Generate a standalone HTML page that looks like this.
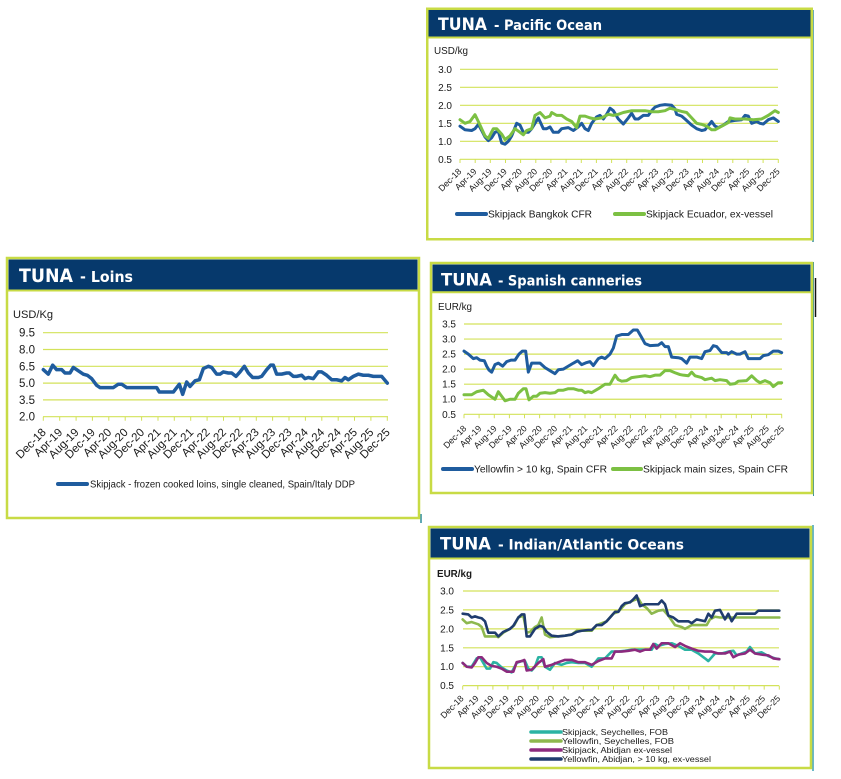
<!DOCTYPE html>
<html><head><meta charset="utf-8"><style>
html,body{margin:0;padding:0;background:#fff;}
svg{display:block;}
.t{font-family:"Liberation Sans",Arial,sans-serif;fill:#1a1a1a;}
.h{font-family:"DejaVu Sans","Liberation Sans",sans-serif;font-weight:bold;fill:#fff;}
.xl{font-family:"Liberation Sans",Arial,sans-serif;font-size:8.8px;fill:#1a1a1a;text-anchor:end;}
.xl2{font-family:"Liberation Sans",Arial,sans-serif;font-size:11.5px;fill:#1a1a1a;text-anchor:end;}
.yl{font-family:"Liberation Sans",Arial,sans-serif;font-size:10px;fill:#1a1a1a;text-anchor:end;}
.g{stroke:#d3e25a;stroke-width:1.2;}
.s{fill:none;stroke-linejoin:round;stroke-linecap:round;vector-effect:non-scaling-stroke;}
</style></head><body>
<svg width="841" height="779" viewBox="0 0 841 779" xmlns="http://www.w3.org/2000/svg">
<rect width="841" height="779" fill="#fff"/>

<!-- ============ PACIFIC ============ -->
<line x1="813" y1="10" x2="813" y2="242" stroke="#3b8f9c" stroke-width="1.5"/>
<rect x="427.25" y="8.75" width="384.5" height="230.5" fill="#fff" stroke="#c8db45" stroke-width="2.5"/>
<rect x="428.5" y="10" width="382" height="26.5" fill="#06396c"/>
<line x1="428" y1="37.5" x2="811" y2="37.5" stroke="#c8db45" stroke-width="2"/>
<text class="h" x="438" y="30" font-size="17" textLength="49" lengthAdjust="spacingAndGlyphs">TUNA</text>
<text class="h" x="494" y="30" font-size="14" textLength="108" lengthAdjust="spacingAndGlyphs">- Pacific Ocean</text>
<text class="t" x="434" y="54" font-size="10" textLength="34" lengthAdjust="spacingAndGlyphs">USD/kg</text>
<g class="g">
<line x1="460" y1="69.3" x2="778" y2="69.3"/><line x1="460" y1="87.3" x2="778" y2="87.3"/>
<line x1="460" y1="105.3" x2="778" y2="105.3"/><line x1="460" y1="123.3" x2="778" y2="123.3"/>
<line x1="460" y1="141.3" x2="778" y2="141.3"/><line x1="460" y1="159.3" x2="778" y2="159.3"/>
</g>
<g class="yl"><text x="452" y="72.8">3.0</text><text x="452" y="90.8">2.5</text><text x="452" y="108.8">2.0</text><text x="452" y="126.8">1.5</text><text x="452" y="144.8">1.0</text><text x="452" y="162.8">0.5</text></g>
<g stroke="#d3e25a" stroke-width="1">
<path d="M460 159v4M475.2 159v4M490.3 159v4M505.5 159v4M520.6 159v4M535.8 159v4M550.9 159v4M566.1 159v4M581.3 159v4M596.4 159v4M611.6 159v4M626.7 159v4M641.9 159v4M657 159v4M672.2 159v4M687.4 159v4M702.5 159v4M717.7 159v4M732.8 159v4M748 159v4M763.1 159v4M778.3 159v4"/>
</g>
<g class="xl" transform="translate(-1,6)">
<text transform="translate(463,166) rotate(-45)">Dec-18</text>
<text transform="translate(478.2,166) rotate(-45)">Apr-19</text>
<text transform="translate(493.3,166) rotate(-45)">Aug-19</text>
<text transform="translate(508.5,166) rotate(-45)">Dec-19</text>
<text transform="translate(523.6,166) rotate(-45)">Apr-20</text>
<text transform="translate(538.8,166) rotate(-45)">Aug-20</text>
<text transform="translate(553.9,166) rotate(-45)">Dec-20</text>
<text transform="translate(569.1,166) rotate(-45)">Apr-21</text>
<text transform="translate(584.3,166) rotate(-45)">Aug-21</text>
<text transform="translate(599.4,166) rotate(-45)">Dec-21</text>
<text transform="translate(614.6,166) rotate(-45)">Apr-22</text>
<text transform="translate(629.7,166) rotate(-45)">Aug-22</text>
<text transform="translate(644.9,166) rotate(-45)">Dec-22</text>
<text transform="translate(660,166) rotate(-45)">Apr-23</text>
<text transform="translate(675.2,166) rotate(-45)">Aug-23</text>
<text transform="translate(690.4,166) rotate(-45)">Dec-23</text>
<text transform="translate(705.5,166) rotate(-45)">Apr-24</text>
<text transform="translate(720.7,166) rotate(-45)">Aug-24</text>
<text transform="translate(735.8,166) rotate(-45)">Dec-24</text>
<text transform="translate(751,166) rotate(-45)">Apr-25</text>
<text transform="translate(766.1,166) rotate(-45)">Aug-25</text>
<text transform="translate(781.3,166) rotate(-45)">Dec-25</text>
</g>
<polyline class="s" stroke="#1f5c9e" stroke-width="3" transform="matrix(0.33333,0,0,-36,425,177.3)" points="105,1.42 120,1.32 140,1.30 150,1.35 160,1.47 170,1.3 180,1.12 190,1.02 200,1.1 210,1.25 220,1.28 230,0.95 240,0.92 250,1.0 260,1.15 275,1.5 285,1.45 295,1.25 310,1.25 320,1.35 340,1.65 355,1.35 365,1.35 375,1.4 385,1.25 400,1.25 410,1.35 430,1.38 445,1.3 460,1.4 470,1.5 480,1.35 490,1.3 500,1.5 515,1.68 525,1.72 535,1.62 545,1.75 555,1.92 565,1.85 580,1.62 595,1.48 610,1.65 620,1.78 630,1.62 640,1.62 655,1.72 670,1.72 680,1.85 690,1.95 705,2.0 720,2.02 740,2.0 750,1.9 755,1.75 770,1.7 780,1.62 800,1.45 815,1.35 830,1.3 840,1.32 860,1.55 870,1.42 880,1.38 895,1.45 910,1.55 930,1.58 950,1.6 960,1.72 970,1.7 980,1.5 995,1.55 1005,1.5 1015,1.48 1030,1.6 1045,1.65 1060,1.55"/>
<polyline class="s" stroke="#7cc043" stroke-width="3" transform="matrix(0.33333,0,0,-36,425,177.3)" points="105,1.6 120,1.5 135,1.55 150,1.74 160,1.55 170,1.35 180,1.15 190,1.08 205,1.35 215,1.35 230,1.2 240,1.05 255,1.15 270,1.35 285,1.25 295,1.18 305,1.3 320,1.35 330,1.72 345,1.8 360,1.65 375,1.7 380,1.8 395,1.72 410,1.72 425,1.62 440,1.55 455,1.38 465,1.7 480,1.7 495,1.65 510,1.62 530,1.65 550,1.75 565,1.72 580,1.75 595,1.8 620,1.85 640,1.85 660,1.85 680,1.82 700,1.82 720,1.85 735,1.92 750,1.88 770,1.83 785,1.8 800,1.65 815,1.5 830,1.47 845,1.42 860,1.32 870,1.32 890,1.42 910,1.52 915,1.65 930,1.62 960,1.62 985,1.6 1010,1.62 1030,1.72 1050,1.85 1060,1.8"/>
<line x1="457" y1="214" x2="486" y2="214" stroke="#1f5c9e" stroke-width="4" stroke-linecap="round"/>
<text class="t" x="488" y="217.5" font-size="10" textLength="104" lengthAdjust="spacingAndGlyphs">Skipjack Bangkok CFR</text>
<line x1="615" y1="214" x2="644" y2="214" stroke="#7cc043" stroke-width="4" stroke-linecap="round"/>
<text class="t" x="646" y="217.5" font-size="10" textLength="127" lengthAdjust="spacingAndGlyphs">Skipjack Ecuador, ex-vessel</text>

<!-- ============ LOINS ============ -->
<line x1="421" y1="514" x2="421" y2="523" stroke="#2a8a9a" stroke-width="1.5"/>
<rect x="7" y="258" width="412" height="260" fill="#fff" stroke="#c8db45" stroke-width="2.5"/>
<rect x="8.5" y="259.5" width="409" height="30" fill="#06396c"/>
<line x1="8" y1="290.5" x2="418" y2="290.5" stroke="#c8db45" stroke-width="2"/>
<text class="h" x="19" y="282" font-size="18.5" textLength="54" lengthAdjust="spacingAndGlyphs">TUNA</text>
<text class="h" x="80" y="282" font-size="15.5" textLength="53" lengthAdjust="spacingAndGlyphs">- Loins</text>
<text class="t" x="13" y="318" font-size="11" textLength="40" lengthAdjust="spacingAndGlyphs">USD/Kg</text>
<g class="g">
<line x1="43" y1="332.7" x2="388" y2="332.7"/><line x1="43" y1="349.5" x2="388" y2="349.5"/>
<line x1="43" y1="366.3" x2="388" y2="366.3"/><line x1="43" y1="383.1" x2="388" y2="383.1"/>
<line x1="43" y1="399.9" x2="388" y2="399.9"/><line x1="43" y1="416.7" x2="388" y2="416.7"/>
</g>
<g class="yl" style="font-size:11.5px"><text x="35" y="336.7">9.5</text><text x="35" y="353.5">8.0</text><text x="35" y="370.3">6.5</text><text x="35" y="387.1">5.0</text><text x="35" y="403.9">3.5</text><text x="35" y="420.7">2.0</text></g>
<g stroke="#d3e25a" stroke-width="1">
<path d="M43.3 416.7v4M59.7 416.7v4M76.1 416.7v4M92.4 416.7v4M108.8 416.7v4M125.2 416.7v4M141.6 416.7v4M158 416.7v4M174.3 416.7v4M190.7 416.7v4M207.1 416.7v4M223.5 416.7v4M239.9 416.7v4M256.3 416.7v4M272.6 416.7v4M289 416.7v4M305.4 416.7v4M321.8 416.7v4M338.2 416.7v4M354.5 416.7v4M370.9 416.7v4M387.3 416.7v4"/>
</g>
<g class="xl2" transform="translate(0.4,8.5)">
<text transform="translate(46.3,424.5) rotate(-45)">Dec-18</text>
<text transform="translate(62.7,424.5) rotate(-45)">Apr-19</text>
<text transform="translate(79.1,424.5) rotate(-45)">Aug-19</text>
<text transform="translate(95.4,424.5) rotate(-45)">Dec-19</text>
<text transform="translate(111.8,424.5) rotate(-45)">Apr-20</text>
<text transform="translate(128.2,424.5) rotate(-45)">Aug-20</text>
<text transform="translate(144.6,424.5) rotate(-45)">Dec-20</text>
<text transform="translate(161,424.5) rotate(-45)">Apr-21</text>
<text transform="translate(177.3,424.5) rotate(-45)">Aug-21</text>
<text transform="translate(193.7,424.5) rotate(-45)">Dec-21</text>
<text transform="translate(210.1,424.5) rotate(-45)">Apr-22</text>
<text transform="translate(226.5,424.5) rotate(-45)">Aug-22</text>
<text transform="translate(242.9,424.5) rotate(-45)">Dec-22</text>
<text transform="translate(259.3,424.5) rotate(-45)">Apr-23</text>
<text transform="translate(275.6,424.5) rotate(-45)">Aug-23</text>
<text transform="translate(292,424.5) rotate(-45)">Dec-23</text>
<text transform="translate(308.4,424.5) rotate(-45)">Apr-24</text>
<text transform="translate(324.8,424.5) rotate(-45)">Aug-24</text>
<text transform="translate(341.2,424.5) rotate(-45)">Dec-24</text>
<text transform="translate(357.5,424.5) rotate(-45)">Apr-25</text>
<text transform="translate(373.9,424.5) rotate(-45)">Aug-25</text>
<text transform="translate(390.3,424.5) rotate(-45)">Dec-25</text>
</g>
<polyline class="s" stroke="#1f5c9e" stroke-width="3.5" transform="matrix(0.33333,0,0,-11.2,0,439.1)" points="130,6.2 145,5.8 158,6.6 170,6.2 185,6.2 195,5.9 210,5.9 220,6.4 235,6.1 250,5.8 262,5.7 275,5.4 290,4.8 300,4.6 340,4.6 355,4.9 365,4.9 380,4.6 470,4.6 478,4.2 520,4.2 538,4.9 548,4.0 560,5.1 570,4.7 585,5.2 598,5.3 610,6.3 625,6.5 635,6.4 650,5.8 660,5.8 670,6.0 685,5.9 695,5.9 708,5.6 720,6.0 733,6.5 745,5.9 758,5.5 775,5.5 785,5.6 800,6.2 812,6.6 820,6.6 830,5.8 845,5.8 860,5.9 868,5.9 880,5.6 890,5.6 905,5.7 915,5.4 925,5.5 940,5.4 955,6.0 965,6.0 980,5.7 995,5.3 1010,5.3 1025,5.2 1035,5.5 1045,5.3 1060,5.6 1075,5.8 1090,5.7 1105,5.7 1120,5.6 1145,5.6 1162,5.0"/>
<line x1="58" y1="484" x2="87" y2="484" stroke="#1f5c9e" stroke-width="4" stroke-linecap="round"/>
<text class="t" x="90" y="487.5" font-size="10" textLength="265" lengthAdjust="spacingAndGlyphs">Skipjack - frozen cooked loins, single cleaned, Spain/Italy DDP</text>

<!-- ============ SPANISH ============ -->
<line x1="813.5" y1="262" x2="813.5" y2="496" stroke="#3b8f9c" stroke-width="1"/>
<line x1="815.5" y1="278" x2="815.5" y2="317" stroke="#111" stroke-width="1.5"/>
<rect x="431" y="263" width="381" height="230" fill="#fff" stroke="#c8db45" stroke-width="2.5"/>
<rect x="432.5" y="264.5" width="378" height="27" fill="#06396c"/>
<line x1="432" y1="292.2" x2="811" y2="292.2" stroke="#c8db45" stroke-width="2"/>
<text class="h" x="441" y="285.5" font-size="17" textLength="51" lengthAdjust="spacingAndGlyphs">TUNA</text>
<text class="h" x="498" y="285.5" font-size="14" textLength="144" lengthAdjust="spacingAndGlyphs">- Spanish canneries</text>
<text class="t" x="438" y="310" font-size="10" textLength="34" lengthAdjust="spacingAndGlyphs">EUR/kg</text>
<g class="g">
<line x1="464" y1="324" x2="782" y2="324"/><line x1="464" y1="339.05" x2="782" y2="339.05"/>
<line x1="464" y1="354.1" x2="782" y2="354.1"/><line x1="464" y1="369.15" x2="782" y2="369.15"/>
<line x1="464" y1="384.2" x2="782" y2="384.2"/><line x1="464" y1="399.25" x2="782" y2="399.25"/>
<line x1="464" y1="414.3" x2="782" y2="414.3"/>
</g>
<g class="yl"><text x="456" y="327.5">3.5</text><text x="456" y="342.5">3.0</text><text x="456" y="357.6">2.5</text><text x="456" y="372.6">2.0</text><text x="456" y="387.7">1.5</text><text x="456" y="402.7">1.0</text><text x="456" y="417.8">0.5</text></g>
<g stroke="#d3e25a" stroke-width="1">
<path d="M464 414.3v4M479.1 414.3v4M494.3 414.3v4M509.4 414.3v4M524.5 414.3v4M539.6 414.3v4M554.8 414.3v4M569.9 414.3v4M585 414.3v4M600.2 414.3v4M615.3 414.3v4M630.4 414.3v4M645.5 414.3v4M660.7 414.3v4M675.8 414.3v4M690.9 414.3v4M706.1 414.3v4M721.2 414.3v4M736.3 414.3v4M751.5 414.3v4M766.6 414.3v4M781.7 414.3v4"/>
</g>
<g class="xl" transform="translate(0,8)">
<text transform="translate(467,421) rotate(-45)">Dec-18</text>
<text transform="translate(482.1,421) rotate(-45)">Apr-19</text>
<text transform="translate(497.3,421) rotate(-45)">Aug-19</text>
<text transform="translate(512.4,421) rotate(-45)">Dec-19</text>
<text transform="translate(527.5,421) rotate(-45)">Apr-20</text>
<text transform="translate(542.6,421) rotate(-45)">Aug-20</text>
<text transform="translate(557.8,421) rotate(-45)">Dec-20</text>
<text transform="translate(572.9,421) rotate(-45)">Apr-21</text>
<text transform="translate(588,421) rotate(-45)">Aug-21</text>
<text transform="translate(603.2,421) rotate(-45)">Dec-21</text>
<text transform="translate(618.3,421) rotate(-45)">Apr-22</text>
<text transform="translate(633.4,421) rotate(-45)">Aug-22</text>
<text transform="translate(648.5,421) rotate(-45)">Dec-22</text>
<text transform="translate(663.7,421) rotate(-45)">Apr-23</text>
<text transform="translate(678.8,421) rotate(-45)">Aug-23</text>
<text transform="translate(693.9,421) rotate(-45)">Dec-23</text>
<text transform="translate(709.1,421) rotate(-45)">Apr-24</text>
<text transform="translate(724.2,421) rotate(-45)">Aug-24</text>
<text transform="translate(739.3,421) rotate(-45)">Dec-24</text>
<text transform="translate(754.5,421) rotate(-45)">Apr-25</text>
<text transform="translate(769.6,421) rotate(-45)">Aug-25</text>
<text transform="translate(784.7,421) rotate(-45)">Dec-25</text>
</g>
<polyline class="s" stroke="#1f5c9e" stroke-width="3" transform="matrix(0.33333,0,0,-30.1,425,429.35)" points="117,2.6 130,2.5 145,2.35 155,2.38 165,2.3 178,2.28 185,2.1 192,1.97 200,1.9 210,2.15 220,2.2 233,2.1 245,2.25 258,2.3 270,2.3 282,2.5 292,2.6 302,2.6 310,1.9 320,2.2 345,2.2 360,2.05 375,1.95 390,1.85 400,1.98 415,2.0 430,2.1 445,2.2 458,2.28 470,2.15 485,2.22 495,2.25 505,2.12 520,2.35 530,2.4 540,2.35 555,2.5 565,2.7 575,3.1 590,3.15 610,3.15 625,3.3 637,3.3 650,3.05 660,2.85 675,2.78 700,2.8 710,2.88 720,2.75 730,2.75 740,2.4 760,2.38 770,2.35 785,2.2 795,2.4 815,2.4 830,2.35 840,2.58 855,2.62 865,2.78 875,2.75 890,2.55 905,2.55 910,2.5 920,2.58 935,2.5 945,2.5 960,2.58 970,2.35 1005,2.35 1015,2.45 1030,2.48 1045,2.6 1060,2.6 1070,2.55"/>
<polyline class="s" stroke="#7cc043" stroke-width="3" transform="matrix(0.33333,0,0,-30.1,425,429.35)" points="117,1.15 140,1.15 155,1.25 175,1.3 190,1.15 210,1.0 220,1.25 240,0.95 255,1.0 270,1.0 280,1.2 295,1.35 303,1.35 312,0.98 325,1.1 335,1.1 345,1.2 360,1.22 375,1.2 390,1.22 400,1.3 415,1.3 430,1.35 445,1.35 460,1.3 470,1.3 480,1.22 490,1.25 500,1.22 520,1.35 540,1.5 555,1.5 570,1.8 580,1.65 590,1.6 605,1.62 620,1.72 640,1.75 660,1.78 675,1.75 690,1.8 705,1.8 720,1.95 735,1.95 750,1.88 765,1.82 775,1.8 790,1.78 800,1.9 810,1.78 830,1.72 840,1.65 860,1.7 870,1.62 885,1.65 905,1.62 915,1.5 930,1.52 940,1.6 965,1.62 980,1.78 995,1.62 1005,1.55 1020,1.62 1035,1.55 1045,1.42 1060,1.55 1070,1.55"/>
<line x1="443" y1="469" x2="472" y2="469" stroke="#1f5c9e" stroke-width="4" stroke-linecap="round"/>
<text class="t" x="474" y="472.5" font-size="10" textLength="133" lengthAdjust="spacingAndGlyphs">Yellowfin &gt; 10 kg, Spain CFR</text>
<line x1="613" y1="469" x2="641" y2="469" stroke="#7cc043" stroke-width="4" stroke-linecap="round"/>
<text class="t" x="643" y="472.5" font-size="10" textLength="145" lengthAdjust="spacingAndGlyphs">Skipjack main sizes, Spain CFR</text>

<!-- ============ INDIAN / ATLANTIC ============ -->
<line x1="813" y1="525" x2="813" y2="771" stroke="#3aa0b5" stroke-width="1.5"/>
<rect x="429" y="527" width="382" height="241" fill="#fff" stroke="#c8db45" stroke-width="2.5"/>
<rect x="430.5" y="528.5" width="379" height="29" fill="#06396c"/>
<line x1="430" y1="558.5" x2="810" y2="558.5" stroke="#c8db45" stroke-width="2"/>
<text class="h" x="440" y="549.5" font-size="17" textLength="51" lengthAdjust="spacingAndGlyphs">TUNA</text>
<text class="h" x="498" y="549.5" font-size="14" textLength="186" lengthAdjust="spacingAndGlyphs">- Indian/Atlantic Oceans</text>
<text class="t" x="437" y="577" font-size="10" font-weight="bold" textLength="35" lengthAdjust="spacingAndGlyphs">EUR/kg</text>
<g class="g">
<line x1="463" y1="591" x2="779" y2="591"/><line x1="463" y1="609.9" x2="779" y2="609.9"/>
<line x1="463" y1="628.9" x2="779" y2="628.9"/><line x1="463" y1="647.8" x2="779" y2="647.8"/>
<line x1="463" y1="666.7" x2="779" y2="666.7"/><line x1="463" y1="685.6" x2="779" y2="685.6"/>
</g>
<g class="yl"><text x="454" y="594.5">3.0</text><text x="454" y="613.4">2.5</text><text x="454" y="632.4">2.0</text><text x="454" y="651.3">1.5</text><text x="454" y="670.2">1.0</text><text x="454" y="689.1">0.5</text></g>
<g stroke="#d3e25a" stroke-width="1">
<path d="M462.7 685.6v4M477.8 685.6v4M492.9 685.6v4M507.9 685.6v4M523 685.6v4M538.1 685.6v4M553.2 685.6v4M568.2 685.6v4M583.3 685.6v4M598.4 685.6v4M613.5 685.6v4M628.5 685.6v4M643.6 685.6v4M658.7 685.6v4M673.8 685.6v4M688.8 685.6v4M703.9 685.6v4M719 685.6v4M734.1 685.6v4M749.1 685.6v4M764.2 685.6v4M779.3 685.6v4"/>
</g>
<g class="xl" transform="translate(-1.5,6.5)">
<text transform="translate(465.7,692.5) rotate(-45)">Dec-18</text>
<text transform="translate(480.8,692.5) rotate(-45)">Apr-19</text>
<text transform="translate(495.9,692.5) rotate(-45)">Aug-19</text>
<text transform="translate(510.9,692.5) rotate(-45)">Dec-19</text>
<text transform="translate(526,692.5) rotate(-45)">Apr-20</text>
<text transform="translate(541.1,692.5) rotate(-45)">Aug-20</text>
<text transform="translate(556.2,692.5) rotate(-45)">Dec-20</text>
<text transform="translate(571.2,692.5) rotate(-45)">Apr-21</text>
<text transform="translate(586.3,692.5) rotate(-45)">Aug-21</text>
<text transform="translate(601.4,692.5) rotate(-45)">Dec-21</text>
<text transform="translate(616.5,692.5) rotate(-45)">Apr-22</text>
<text transform="translate(631.5,692.5) rotate(-45)">Aug-22</text>
<text transform="translate(646.6,692.5) rotate(-45)">Dec-22</text>
<text transform="translate(661.7,692.5) rotate(-45)">Apr-23</text>
<text transform="translate(676.8,692.5) rotate(-45)">Aug-23</text>
<text transform="translate(691.8,692.5) rotate(-45)">Dec-23</text>
<text transform="translate(706.9,692.5) rotate(-45)">Apr-24</text>
<text transform="translate(722,692.5) rotate(-45)">Aug-24</text>
<text transform="translate(737.1,692.5) rotate(-45)">Dec-24</text>
<text transform="translate(752.1,692.5) rotate(-45)">Apr-25</text>
<text transform="translate(767.2,692.5) rotate(-45)">Aug-25</text>
<text transform="translate(782.3,692.5) rotate(-45)">Dec-25</text>
</g>
<!-- Skipjack Seychelles (teal) -->
<polyline class="s" stroke="#2bb3a3" stroke-width="2.6" transform="matrix(0.33333,0,0,-37.87,425,704.6)" points="113,1.1 125,1.0 140,1.0 155,1.22 165,1.25 175,1.1 185,0.95 195,0.95 205,1.12 215,1.1 230,0.98 245,0.9 260,0.85 275,1.1 290,1.15 300,1.15 310,0.95 320,0.9 330,1.0 340,1.25 350,1.25 360,1.0 375,0.92 390,1.1 410,1.05 425,1.1 440,1.12 460,1.1 480,1.1 500,1.0 520,1.22 540,1.22 560,1.4 580,1.4 600,1.42 620,1.45 640,1.45 660,1.45 680,1.45 690,1.6 700,1.55 720,1.6 740,1.62 760,1.55 780,1.45 800,1.45 820,1.35 840,1.22 850,1.15 870,1.35 890,1.35 910,1.4 925,1.42 935,1.3 950,1.35 965,1.4 975,1.52 990,1.35 1010,1.38 1030,1.28 1050,1.22 1063,1.2"/>
<!-- Yellowfin Seychelles (olive) -->
<polyline class="s" stroke="#8db84e" stroke-width="2.6" transform="matrix(0.33333,0,0,-37.87,425,704.6)" points="113,2.25 125,2.15 140,2.18 160,2.12 170,2.05 180,1.8 215,1.8 220,1.78 235,1.9 255,2.0 268,2.1 280,2.3 295,2.35 305,1.9 315,1.92 330,2.05 340,2.1 350,2.3 360,1.85 375,1.78 395,1.8 420,1.82 440,1.85 455,1.95 500,1.95 515,2.1 545,2.2 565,2.4 580,2.45 600,2.65 625,2.75 640,2.8 650,2.65 665,2.55 680,2.4 700,2.48 715,2.5 730,2.35 750,2.1 770,2.05 780,2.0 800,2.1 830,2.1 845,2.1 855,2.25 870,2.32 885,2.3 1063,2.3"/>
<!-- Skipjack Abidjan (purple) -->
<polyline class="s" stroke="#8c2a7e" stroke-width="2.6" transform="matrix(0.33333,0,0,-37.87,425,704.6)" points="113,1.1 125,1.0 140,0.98 150,1.1 160,1.25 170,1.25 185,1.1 200,1.02 215,1.0 230,0.95 245,0.87 265,0.87 275,1.12 290,1.15 298,1.18 305,0.9 320,0.92 340,1.1 355,1.2 360,1.0 380,1.05 400,1.12 420,1.18 440,1.18 460,1.12 480,1.12 500,1.05 520,1.15 540,1.22 560,1.22 570,1.4 590,1.4 610,1.42 630,1.45 645,1.4 660,1.45 675,1.45 685,1.6 695,1.48 710,1.62 730,1.62 750,1.52 765,1.62 780,1.55 800,1.48 820,1.42 840,1.4 860,1.4 880,1.35 900,1.35 915,1.4 925,1.25 940,1.32 960,1.35 975,1.45 990,1.35 1010,1.32 1030,1.3 1045,1.22 1063,1.2"/>
<!-- Yellowfin Abidjan (navy) -->
<polyline class="s" stroke="#1f3c6e" stroke-width="2.6" transform="matrix(0.33333,0,0,-37.87,425,704.6)" points="113,2.4 130,2.38 140,2.3 150,2.33 160,2.3 170,2.28 180,2.2 190,1.9 210,1.9 220,1.8 235,1.92 255,2.0 265,2.08 280,2.3 290,2.38 298,2.38 305,1.8 315,1.8 330,2.0 345,2.08 355,2.05 365,1.92 380,1.82 400,1.8 420,1.82 440,1.85 455,1.92 470,1.95 490,1.97 500,1.97 515,2.1 530,2.1 545,2.2 560,2.35 570,2.45 580,2.45 590,2.6 600,2.68 615,2.7 625,2.78 635,2.88 645,2.6 660,2.65 700,2.65 710,2.75 720,2.65 730,2.35 745,2.3 760,2.2 790,2.2 800,2.15 815,2.25 830,2.22 840,2.2 850,2.4 860,2.3 870,2.48 885,2.5 900,2.25 910,2.4 920,2.2 935,2.4 990,2.4 1000,2.48 1063,2.48"/>
<g stroke-width="3.5" stroke-linecap="round">
<line x1="531" y1="732" x2="561" y2="732" stroke="#2bb3a3"/>
<line x1="531" y1="741" x2="561" y2="741" stroke="#8db84e"/>
<line x1="531" y1="750" x2="561" y2="750" stroke="#8c2a7e"/>
<line x1="531" y1="759" x2="561" y2="759" stroke="#1f3c6e"/>
</g>
<g class="t" font-size="8.5">
<text x="562" y="735" textLength="106" lengthAdjust="spacingAndGlyphs">Skipjack, Seychelles, FOB</text>
<text x="562" y="744" textLength="112" lengthAdjust="spacingAndGlyphs">Yellowfin, Seychelles, FOB</text>
<text x="562" y="753" textLength="110" lengthAdjust="spacingAndGlyphs">Skipjack, Abidjan ex-vessel</text>
<text x="562" y="762" textLength="149" lengthAdjust="spacingAndGlyphs">Yellowfin, Abidjan, &gt; 10 kg, ex-vessel</text>
</g>
</svg>
</body></html>
